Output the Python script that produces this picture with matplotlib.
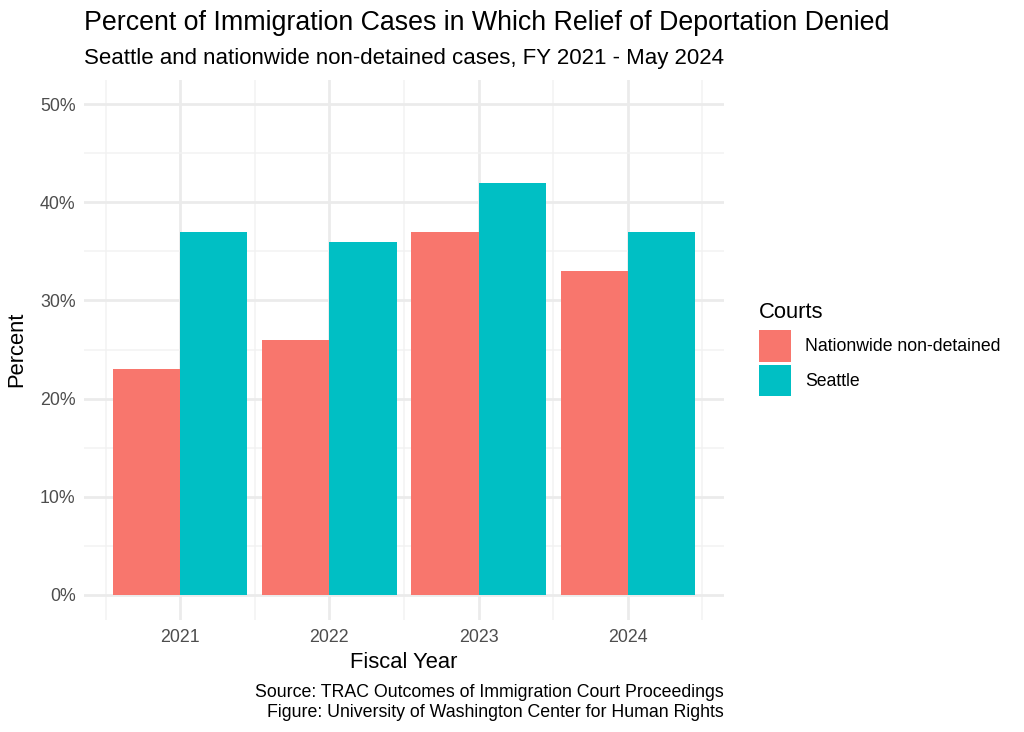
import matplotlib
matplotlib.use("Agg")
import matplotlib.pyplot as plt
import numpy as np
from matplotlib.ticker import FuncFormatter

plt.rcParams['font.family'] = ['Liberation Sans', 'DejaVu Sans']

years = [2021, 2022, 2023, 2024]
nationwide = [23, 26, 37, 33]
seattle = [37, 36, 42, 37]
series_names = ["Nationwide non-detained", "Seattle"]
colors = ["#F8766D", "#00BFC4"]

fig = plt.figure(figsize=(10.24, 7.32), dpi=100)
ax = fig.add_axes([84/1024, 1-619.5/732, (724-84)/1024, (619.5-79.5)/732])

w = 0.45
x = np.array(years, dtype=float)
b1 = ax.bar(x - w/2, nationwide, width=w, color=colors[0], label=series_names[0], zorder=3)
b2 = ax.bar(x + w/2, seattle, width=w, color=colors[1], label=series_names[1], zorder=3)

ax.set_xlim(2020.355, 2024.645)
ax.set_ylim(-2.5, 52.5)
ax.set_xticks(years)
ax.set_xticks([2020.5, 2021.5, 2022.5, 2023.5, 2024.5], minor=True)
ax.set_yticks([0, 10, 20, 30, 40, 50])
ax.set_yticks([5, 15, 25, 35, 45], minor=True)
ax.yaxis.set_major_formatter(FuncFormatter(lambda v, p: f"{int(v)}%"))

ax.grid(True, which='major', color='#EBEBEB', linewidth=2.0, zorder=0)
ax.grid(True, which='minor', color='#F2F2F2', linewidth=1.1, zorder=0)
for s in ax.spines.values():
    s.set_visible(False)
ax.tick_params(which='both', length=0, width=0)
ax.tick_params(which='minor', labelbottom=False, labelleft=False)
ax.tick_params(axis='both', labelsize=12.8, labelcolor='#4D4D4D')
ax.tick_params(axis='x', pad=7)
ax.tick_params(axis='y', pad=6)
ax.set_xlabel("Fiscal Year", fontsize=15.8, labelpad=4)
ax.set_ylabel("Percent", fontsize=15.8, labelpad=9)

fig.text(84/1024, 1-30/732, "Percent of Immigration Cases in Which Relief of Deportation Denied",
         fontsize=19.3, ha='left', va='baseline')
fig.text(84/1024, 1-64/732, "Seattle and nationwide non-detained cases, FY 2021 - May 2024",
         fontsize=16, ha='left', va='baseline')
fig.text(724/1024, 1-697/732, "Source: TRAC Outcomes of Immigration Court Proceedings",
         fontsize=12.8, ha='right', va='baseline')
fig.text(724/1024, 1-717/732, "Figure: University of Washington Center for Human Rights",
         fontsize=12.8, ha='right', va='baseline')

leg = fig.legend(handles=[b1, b2], labels=series_names, title="Courts",
                 loc='upper left', bbox_to_anchor=(743/1024, 1-286/732),
                 frameon=False, fontsize=12.7, title_fontsize=15.8,
                 handlelength=1.82, handleheight=2.4, handletextpad=0.8,
                 labelspacing=0.17)
leg._legend_box.align = "left"
leg._legend_box.sep = 5

fig.savefig("out.png", dpi=100)
